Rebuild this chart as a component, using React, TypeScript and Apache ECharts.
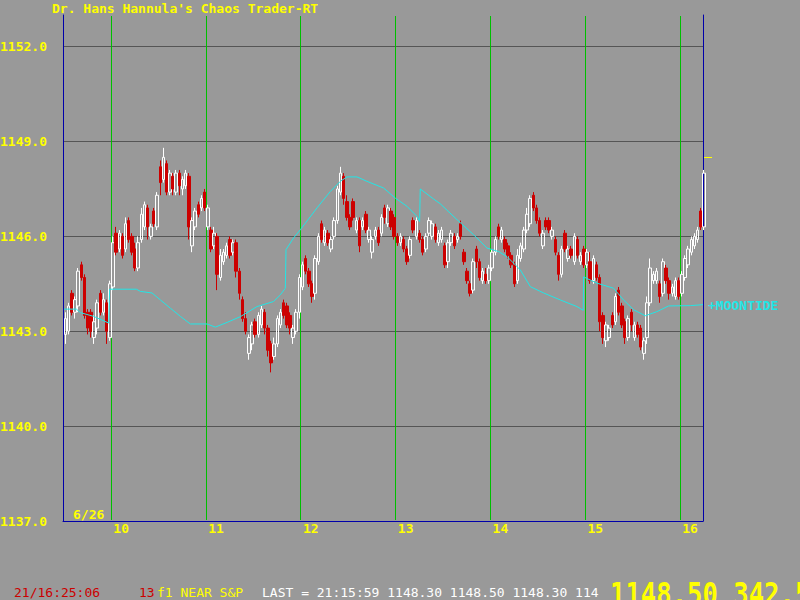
import React, { useEffect, useRef } from "react";
import * as echarts from "echarts";

const BG = "#999999";
const YELLOW = "#ffff00";
const BLUE = "#0000aa";
const GREEN = "#00c000";
const GRID_GRAY = "#555555";
const CYAN = "#22e6e6";
const RED = "#cc0000";
const MONO = '"DejaVu Sans Mono", "Liberation Mono", monospace';

// ---------- data ----------
const titleText = "Dr. Hans Hannula's Chaos Trader-RT";
const dateText = "6/26";
const hourTicks = [10, 11, 12, 13, 14, 15, 16];
const cycleLines = [10, 11, 12, 13, 14, 15, 16];
const priceTicks = [1137, 1140, 1143, 1146, 1149, 1152];
const axisStart = 9.49;
const axisEnd = 16.24;
const sessionStart = 9.5;
const barMinutes = 2;

// 2-minute bars: [open, close, low, high]
const bars: number[][] = [
  [1142.9, 1143.4, 1142.6, 1143.6], [1143.0, 1143.8, 1142.9, 1143.9], [1144.2, 1143.6, 1143.5, 1144.3],
  [1143.6, 1144.0, 1143.4, 1144.1], [1143.8, 1144.9, 1143.6, 1145.0], [1145.1, 1144.7, 1144.6, 1145.2],
  [1144.7, 1143.5, 1143.4, 1144.8], [1143.6, 1143.1, 1142.9, 1143.7], [1143.6, 1143.0, 1142.8, 1143.7],
  [1142.8, 1143.3, 1142.6, 1143.5], [1143.1, 1143.9, 1142.9, 1144.0], [1144.2, 1143.6, 1143.5, 1144.3],
  [1143.6, 1144.0, 1143.5, 1144.2], [1143.9, 1143.0, 1142.6, 1144.0], [1142.8, 1144.5, 1142.7, 1144.6],
  [1144.4, 1145.8, 1144.3, 1146.0], [1146.1, 1145.5, 1145.4, 1146.3], [1145.6, 1146.1, 1145.5, 1146.2],
  [1146.0, 1145.4, 1145.3, 1146.1], [1145.6, 1146.4, 1145.5, 1146.6], [1146.5, 1145.9, 1145.8, 1146.6],
  [1146.0, 1145.5, 1145.4, 1146.1], [1145.6, 1145.0, 1144.9, 1145.8], [1145.0, 1145.8, 1144.9, 1146.0],
  [1145.9, 1146.7, 1145.8, 1146.9], [1146.3, 1147.0, 1146.2, 1147.1], [1146.9, 1146.3, 1145.9, 1147.0],
  [1146.0, 1146.3, 1145.9, 1146.4], [1146.8, 1146.4, 1146.3, 1146.9], [1146.3, 1147.3, 1146.2, 1147.4],
  [1148.2, 1147.7, 1147.3, 1148.4], [1147.8, 1148.5, 1147.7, 1148.8], [1148.3, 1147.4, 1147.3, 1148.4],
  [1147.4, 1148.0, 1147.3, 1148.1], [1147.9, 1147.5, 1147.3, 1148.0], [1147.4, 1148.0, 1147.3, 1148.1],
  [1148.0, 1147.6, 1147.3, 1148.1], [1147.5, 1147.8, 1147.3, 1147.9], [1147.6, 1148.0, 1147.5, 1148.1],
  [1147.9, 1146.3, 1145.9, 1148.0], [1145.7, 1146.5, 1145.5, 1146.6], [1146.3, 1146.8, 1146.2, 1146.9],
  [1147.0, 1146.7, 1146.6, 1147.1], [1146.9, 1147.2, 1146.8, 1147.3], [1147.4, 1146.9, 1146.8, 1147.5],
  [1146.3, 1146.9, 1146.2, 1147.0], [1146.2, 1145.6, 1145.5, 1146.3], [1145.7, 1146.1, 1145.6, 1146.3],
  [1146.0, 1144.8, 1144.3, 1146.1], [1144.7, 1145.4, 1144.6, 1145.6], [1145.2, 1145.5, 1145.1, 1145.6],
  [1145.4, 1145.7, 1145.3, 1145.8], [1145.9, 1145.4, 1145.3, 1146.0], [1145.5, 1145.8, 1145.4, 1145.9],
  [1145.8, 1144.9, 1144.7, 1145.9], [1144.9, 1144.2, 1144.0, 1145.0], [1144.0, 1143.4, 1143.3, 1144.1],
  [1143.4, 1143.0, 1142.9, 1143.6], [1142.3, 1142.8, 1142.1, 1142.9], [1142.6, 1143.2, 1142.4, 1143.3],
  [1143.3, 1142.9, 1142.8, 1143.4], [1142.9, 1143.5, 1142.8, 1143.6], [1143.2, 1143.7, 1143.1, 1143.8],
  [1143.6, 1143.1, 1142.9, 1143.7], [1143.1, 1142.4, 1142.2, 1143.2], [1142.6, 1142.0, 1141.7, 1142.7],
  [1142.2, 1142.6, 1142.1, 1142.8], [1142.6, 1143.4, 1142.5, 1143.5], [1143.2, 1143.6, 1143.1, 1143.7],
  [1143.9, 1143.5, 1143.4, 1144.0], [1143.8, 1143.2, 1143.1, 1143.9], [1143.5, 1143.1, 1142.9, 1143.6],
  [1142.8, 1143.1, 1142.6, 1143.2], [1143.0, 1143.6, 1142.9, 1143.7], [1143.6, 1144.7, 1143.4, 1144.8],
  [1144.4, 1145.1, 1144.3, 1145.2], [1145.3, 1144.9, 1144.8, 1145.4], [1144.9, 1144.5, 1144.4, 1145.0],
  [1144.5, 1144.1, 1143.9, 1144.6], [1144.2, 1145.3, 1144.0, 1145.4], [1145.2, 1146.0, 1145.1, 1146.1],
  [1146.4, 1145.9, 1145.8, 1146.5], [1145.8, 1146.2, 1145.7, 1146.3], [1146.1, 1145.8, 1145.7, 1146.2],
  [1145.6, 1145.9, 1145.5, 1146.0], [1146.0, 1146.5, 1145.9, 1146.6], [1146.5, 1147.5, 1146.4, 1147.6],
  [1147.4, 1148.0, 1147.3, 1148.2], [1147.9, 1147.2, 1147.0, 1148.0], [1147.1, 1146.6, 1146.5, 1147.3],
  [1146.6, 1146.3, 1146.2, 1146.7], [1147.1, 1146.6, 1146.5, 1147.2], [1146.2, 1146.5, 1146.1, 1146.6],
  [1146.5, 1145.7, 1145.5, 1146.6], [1146.3, 1146.5, 1146.2, 1146.6], [1146.7, 1146.2, 1146.1, 1146.8],
  [1145.9, 1146.2, 1145.8, 1146.3], [1145.5, 1145.9, 1145.3, 1146.0], [1146.0, 1146.2, 1145.9, 1146.3],
  [1146.2, 1145.8, 1145.7, 1146.3], [1146.1, 1146.6, 1146.0, 1146.7], [1146.9, 1146.6, 1146.4, 1147.0],
  [1146.4, 1146.9, 1146.3, 1147.0], [1146.8, 1146.3, 1146.2, 1146.9], [1146.6, 1146.0, 1145.9, 1146.7],
  [1146.0, 1145.8, 1145.7, 1146.1], [1145.8, 1146.0, 1145.7, 1146.1], [1145.9, 1145.6, 1145.5, 1146.0],
  [1145.6, 1145.2, 1145.1, 1145.7], [1145.4, 1145.9, 1145.3, 1146.0], [1146.5, 1146.2, 1146.1, 1146.6],
  [1146.0, 1146.5, 1145.9, 1146.6], [1146.1, 1145.9, 1145.8, 1146.2], [1145.9, 1145.5, 1145.4, 1146.0],
  [1145.6, 1146.0, 1145.5, 1146.1], [1146.1, 1146.5, 1146.0, 1146.6], [1146.0, 1146.4, 1145.9, 1146.5],
  [1146.3, 1145.9, 1145.8, 1146.4], [1145.8, 1146.1, 1145.7, 1146.2], [1145.9, 1146.2, 1145.8, 1146.3],
  [1145.7, 1145.1, 1145.0, 1145.8], [1145.2, 1145.8, 1145.0, 1145.9], [1145.8, 1146.1, 1145.7, 1146.2],
  [1146.0, 1145.7, 1145.6, 1146.1], [1145.9, 1146.0, 1145.8, 1146.1], [1146.4, 1146.0, 1145.9, 1146.5],
  [1145.5, 1145.2, 1145.1, 1145.6], [1144.9, 1144.6, 1144.5, 1145.0], [1144.5, 1144.2, 1144.1, 1144.6],
  [1144.3, 1145.2, 1144.2, 1145.3], [1145.6, 1145.2, 1145.0, 1145.7], [1145.2, 1144.7, 1144.6, 1145.3],
  [1144.6, 1144.9, 1144.5, 1145.0], [1144.8, 1144.6, 1144.5, 1145.0], [1144.6, 1145.0, 1144.5, 1145.1],
  [1145.0, 1145.5, 1144.9, 1145.6], [1145.5, 1145.9, 1145.4, 1146.0], [1146.3, 1146.0, 1145.9, 1146.4],
  [1145.9, 1146.2, 1145.8, 1146.3], [1145.9, 1145.6, 1145.5, 1146.0], [1145.7, 1145.4, 1145.3, 1145.8],
  [1145.4, 1145.1, 1145.0, 1145.5], [1145.1, 1144.5, 1144.4, 1145.2], [1144.6, 1145.4, 1144.5, 1145.6],
  [1145.3, 1145.7, 1145.2, 1145.8], [1145.6, 1146.2, 1145.5, 1146.3], [1146.2, 1146.7, 1146.1, 1146.9],
  [1146.4, 1147.2, 1146.3, 1147.3], [1147.3, 1146.9, 1146.8, 1147.4], [1146.9, 1146.5, 1146.4, 1147.0],
  [1146.5, 1146.1, 1146.0, 1146.6], [1145.7, 1146.1, 1145.6, 1146.2], [1146.5, 1146.3, 1146.2, 1146.6],
  [1146.5, 1146.2, 1146.1, 1146.6], [1146.0, 1146.2, 1145.9, 1146.3], [1145.9, 1145.5, 1145.4, 1146.0],
  [1145.4, 1144.8, 1144.6, 1145.5], [1144.8, 1145.6, 1144.7, 1145.7], [1146.1, 1145.6, 1145.5, 1146.2],
  [1145.3, 1145.6, 1145.2, 1145.7], [1145.6, 1145.4, 1145.3, 1145.7], [1145.2, 1146.0, 1145.1, 1146.1],
  [1145.9, 1145.4, 1145.3, 1146.0], [1145.2, 1145.4, 1145.1, 1145.5], [1145.6, 1145.1, 1145.0, 1145.7],
  [1145.1, 1145.5, 1145.0, 1145.6], [1145.2, 1144.6, 1144.5, 1145.5], [1144.6, 1145.3, 1144.5, 1145.4],
  [1145.1, 1144.7, 1144.6, 1145.2], [1144.7, 1143.3, 1143.0, 1144.8], [1143.5, 1142.8, 1142.6, 1143.6],
  [1142.7, 1143.2, 1142.5, 1143.3], [1142.8, 1143.1, 1142.7, 1143.2], [1143.5, 1143.2, 1143.1, 1143.6],
  [1143.3, 1144.1, 1143.2, 1144.2], [1144.3, 1143.6, 1143.5, 1144.4], [1143.8, 1143.2, 1143.1, 1143.9],
  [1143.3, 1142.8, 1142.6, 1143.4], [1142.8, 1143.4, 1142.7, 1143.5], [1143.6, 1143.2, 1143.0, 1143.7],
  [1142.8, 1143.2, 1142.7, 1143.3], [1143.2, 1142.9, 1142.8, 1143.3], [1143.1, 1142.5, 1142.4, 1143.2],
  [1142.3, 1142.7, 1142.1, 1142.8], [1142.8, 1143.9, 1142.6, 1144.1], [1143.9, 1145.0, 1143.8, 1145.3],
  [1144.6, 1144.8, 1144.5, 1144.9], [1144.6, 1144.9, 1144.5, 1145.0], [1144.5, 1144.1, 1143.9, 1144.6],
  [1144.2, 1145.2, 1144.1, 1145.3], [1145.0, 1144.6, 1144.5, 1145.1], [1144.6, 1144.2, 1144.0, 1144.7],
  [1144.2, 1144.4, 1144.1, 1144.5], [1144.1, 1144.6, 1144.0, 1144.7], [1144.6, 1144.1, 1144.0, 1144.7],
  [1144.2, 1144.8, 1144.1, 1144.9], [1144.7, 1145.3, 1144.6, 1145.4], [1145.1, 1145.6, 1145.0, 1145.7],
  [1145.5, 1145.9, 1145.4, 1146.0], [1145.7, 1146.0, 1145.6, 1146.1], [1145.9, 1146.2, 1145.8, 1146.3],
  [1146.8, 1146.3, 1146.2, 1146.9], [1146.3, 1148.0, 1146.2, 1148.1],
];

// Moontide curve (hour of day, price)
const moonTimes = [
  9.5, 9.631, 9.673, 9.813, 9.972, 9.982, 10.264, 10.306, 10.429, 10.517, 10.622, 10.728, 10.833,
  11.009, 11.097, 11.22, 11.36, 11.536, 11.711, 11.782, 11.835, 11.842, 11.922, 11.993, 12.169,
  12.309, 12.415, 12.486, 12.591, 12.696, 12.871, 12.995, 13.118, 13.224, 13.251, 13.258, 13.399,
  13.469, 13.645, 13.821, 13.962, 14.084, 14.173, 14.313, 14.419, 14.559, 14.735, 14.911, 14.977,
  14.98, 15.122, 15.297, 15.402, 15.508, 15.631, 15.754, 15.877, 16.106, 16.24,
];
const moonValues = [
  1143.70, 1143.70, 1143.59, 1143.47, 1143.26, 1144.33, 1144.33, 1144.26, 1144.21, 1143.99, 1143.73,
  1143.47, 1143.23, 1143.23, 1143.13, 1143.28, 1143.46, 1143.78, 1143.94, 1144.15, 1144.36, 1145.58,
  1145.95, 1146.21, 1146.90, 1147.42, 1147.74, 1147.88, 1147.88, 1147.74, 1147.53, 1147.21, 1146.95,
  1146.63, 1146.47, 1147.50, 1147.18, 1147.03, 1146.53, 1146.05, 1145.63, 1145.52, 1145.36, 1144.94,
  1144.41, 1144.21, 1143.99, 1143.78, 1143.66, 1144.72, 1144.52, 1144.36, 1143.99, 1143.68, 1143.49,
  1143.62, 1143.80, 1143.81, 1143.84,
];
const moonLabel = "+MOONTIDE";
const lastPrice = 1148.5;

const statusClock = "21/16:25:06";
const statusCount = "13";
const statusSymbol = "f1 NEAR S&P";
const statusLast = "LAST = 21:15:59 1148.30 1148.50 1148.30 114";
const bigQuote = "1148.50 342.5";

export default function App() {
  const ref = useRef<HTMLDivElement>(null);

  useEffect(() => {
    document.body.style.margin = "0";
    document.body.style.background = BG;
    const chart = echarts.init(ref.current!, null, { renderer: "svg", width: 800, height: 600 });

    const candleData = bars.map((b, i) => [
      sessionStart + ((i + 0.5) * barMinutes) / 60,
      b[0], b[1], b[2], b[3],
    ]);
    const moonData = moonTimes.map((t, i) => [t, moonValues[i]]);

    const labelFont = { color: YELLOW, fontFamily: MONO, fontWeight: "bold" as const, fontSize: 13 };

    chart.setOption({
      animation: false,
      backgroundColor: BG,
      grid: { left: 63, right: 97, top: 15, bottom: 79, outerBoundsMode: "none" },
      xAxis: {
        type: "value",
        min: axisStart,
        max: axisEnd,
        splitNumber: 7,
        axisLine: { show: true, onZero: false, lineStyle: { color: BLUE, width: 1 } },
        axisTick: { show: false },
        splitLine: { show: false },
        axisLabel: {
          ...labelFont,
          customValues: hourTicks,
          align: "left",
          margin: 1,
          padding: [0, 0, 0, 2],
          formatter: (v: number) => (Number.isInteger(v) && hourTicks.includes(v) ? String(v) : ""),
        },
      },
      yAxis: [
        {
          type: "value",
          position: "left",
          min: 1137,
          max: 1153,
          interval: 3,
          axisLine: { show: true, onZero: false, lineStyle: { color: BLUE, width: 1 } },
          axisTick: { show: false },
          axisLabel: {
            ...labelFont,
            margin: 16,
            showMaxLabel: false,
            formatter: (v: number) => (priceTicks.includes(v) ? v.toFixed(1) : ""),
          },
          splitLine: {
            show: true,
            showMinLine: false,
            showMaxLine: false,
            lineStyle: { color: GRID_GRAY, width: 1 },
          },
        },
        {
          type: "value",
          position: "right",
          min: 1137,
          max: 1153,
          axisLine: { show: true, onZero: false, lineStyle: { color: BLUE, width: 1 } },
          axisTick: { show: false },
          axisLabel: { show: false },
          splitLine: { show: false },
        },
      ],
      series: [
        {
          type: "candlestick",
          data: candleData,
          encode: { x: 0, y: [1, 2, 3, 4] },
          barWidth: 3,
          clip: false,
          z: 2,
          silent: true,
          itemStyle: {
            color: "transparent",
            color0: RED,
            borderColor: "#ffffff",
            borderColor0: RED,
            borderWidth: 1,
          },
        },
        {
          type: "line",
          data: moonData,
          showSymbol: false,
          symbol: "none",
          z: 5,
          silent: true,
          lineStyle: { color: CYAN, width: 1 },
        },
      ],
    });

    const xRight = chart.convertToPixel({ xAxisIndex: 0 }, axisEnd) as number;
    const yTop = chart.convertToPixel({ yAxisIndex: 0 }, 1153) as number;
    const yLast = chart.convertToPixel({ yAxisIndex: 0 }, lastPrice) as number;
    const yMoon = chart.convertToPixel({ yAxisIndex: 0 }, moonValues[moonValues.length - 1]) as number;
    const yBottom = chart.convertToPixel({ yAxisIndex: 0 }, 1137) as number;

    const cycleGraphics = cycleLines.map((h) => {
      const px = Math.floor(chart.convertToPixel({ xAxisIndex: 0 }, h) as number) + 0.5;
      return {
        type: "line",
        silent: true,
        z: 0,
        shape: { x1: px, y1: yTop + 1, x2: px, y2: yBottom - 1 },
        style: { stroke: GREEN, lineWidth: 1 },
      };
    });

    const statusText = (text: string, x: number, fill: string) => ({
      type: "text",
      x,
      y: 592,
      silent: true,
      style: { text, fill, font: `13px ${MONO}`, align: "left", verticalAlign: "middle" },
    });

    chart.setOption({
      graphic: [
        ...cycleGraphics,
        {
          type: "text",
          x: 52,
          y: 8,
          silent: true,
          style: { text: titleText, fill: YELLOW, font: `bold 13px ${MONO}`, align: "left", verticalAlign: "middle" },
        },
        {
          type: "text",
          x: 73,
          y: yBottom - 7,
          silent: true,
          style: { text: dateText, fill: YELLOW, font: `bold 13px ${MONO}`, align: "left", verticalAlign: "middle" },
        },
        {
          type: "line",
          silent: true,
          shape: { x1: xRight, y1: Math.round(yLast) + 0.5, x2: xRight + 9, y2: Math.round(yLast) + 0.5 },
          style: { stroke: YELLOW, lineWidth: 1 },
        },
        {
          type: "text",
          x: xRight + 5,
          y: yMoon + 1,
          silent: true,
          style: { text: moonLabel, fill: CYAN, font: `bold 13px ${MONO}`, align: "left", verticalAlign: "middle" },
        },
        statusText(statusClock, 14, RED),
        statusText(statusCount, 139, RED),
        statusText(statusSymbol, 157, YELLOW),
        statusText(statusLast, 262, "#ffffff"),
        {
          type: "group",
          x: 610,
          y: 0,
          scaleX: 0.8,
          silent: true,
          children: [
            {
              type: "text",
              x: 0,
              y: 594,
              style: { text: bigQuote, fill: YELLOW, font: `bold 32px ${MONO}`, align: "left", verticalAlign: "middle" },
            },
          ],
        },
      ],
    });

    return () => chart.dispose();
  }, []);

  return (
    <div
      ref={ref}
      style={{ position: "fixed", left: 0, top: 0, width: 800, height: 600, background: BG }}
    />
  );
}
